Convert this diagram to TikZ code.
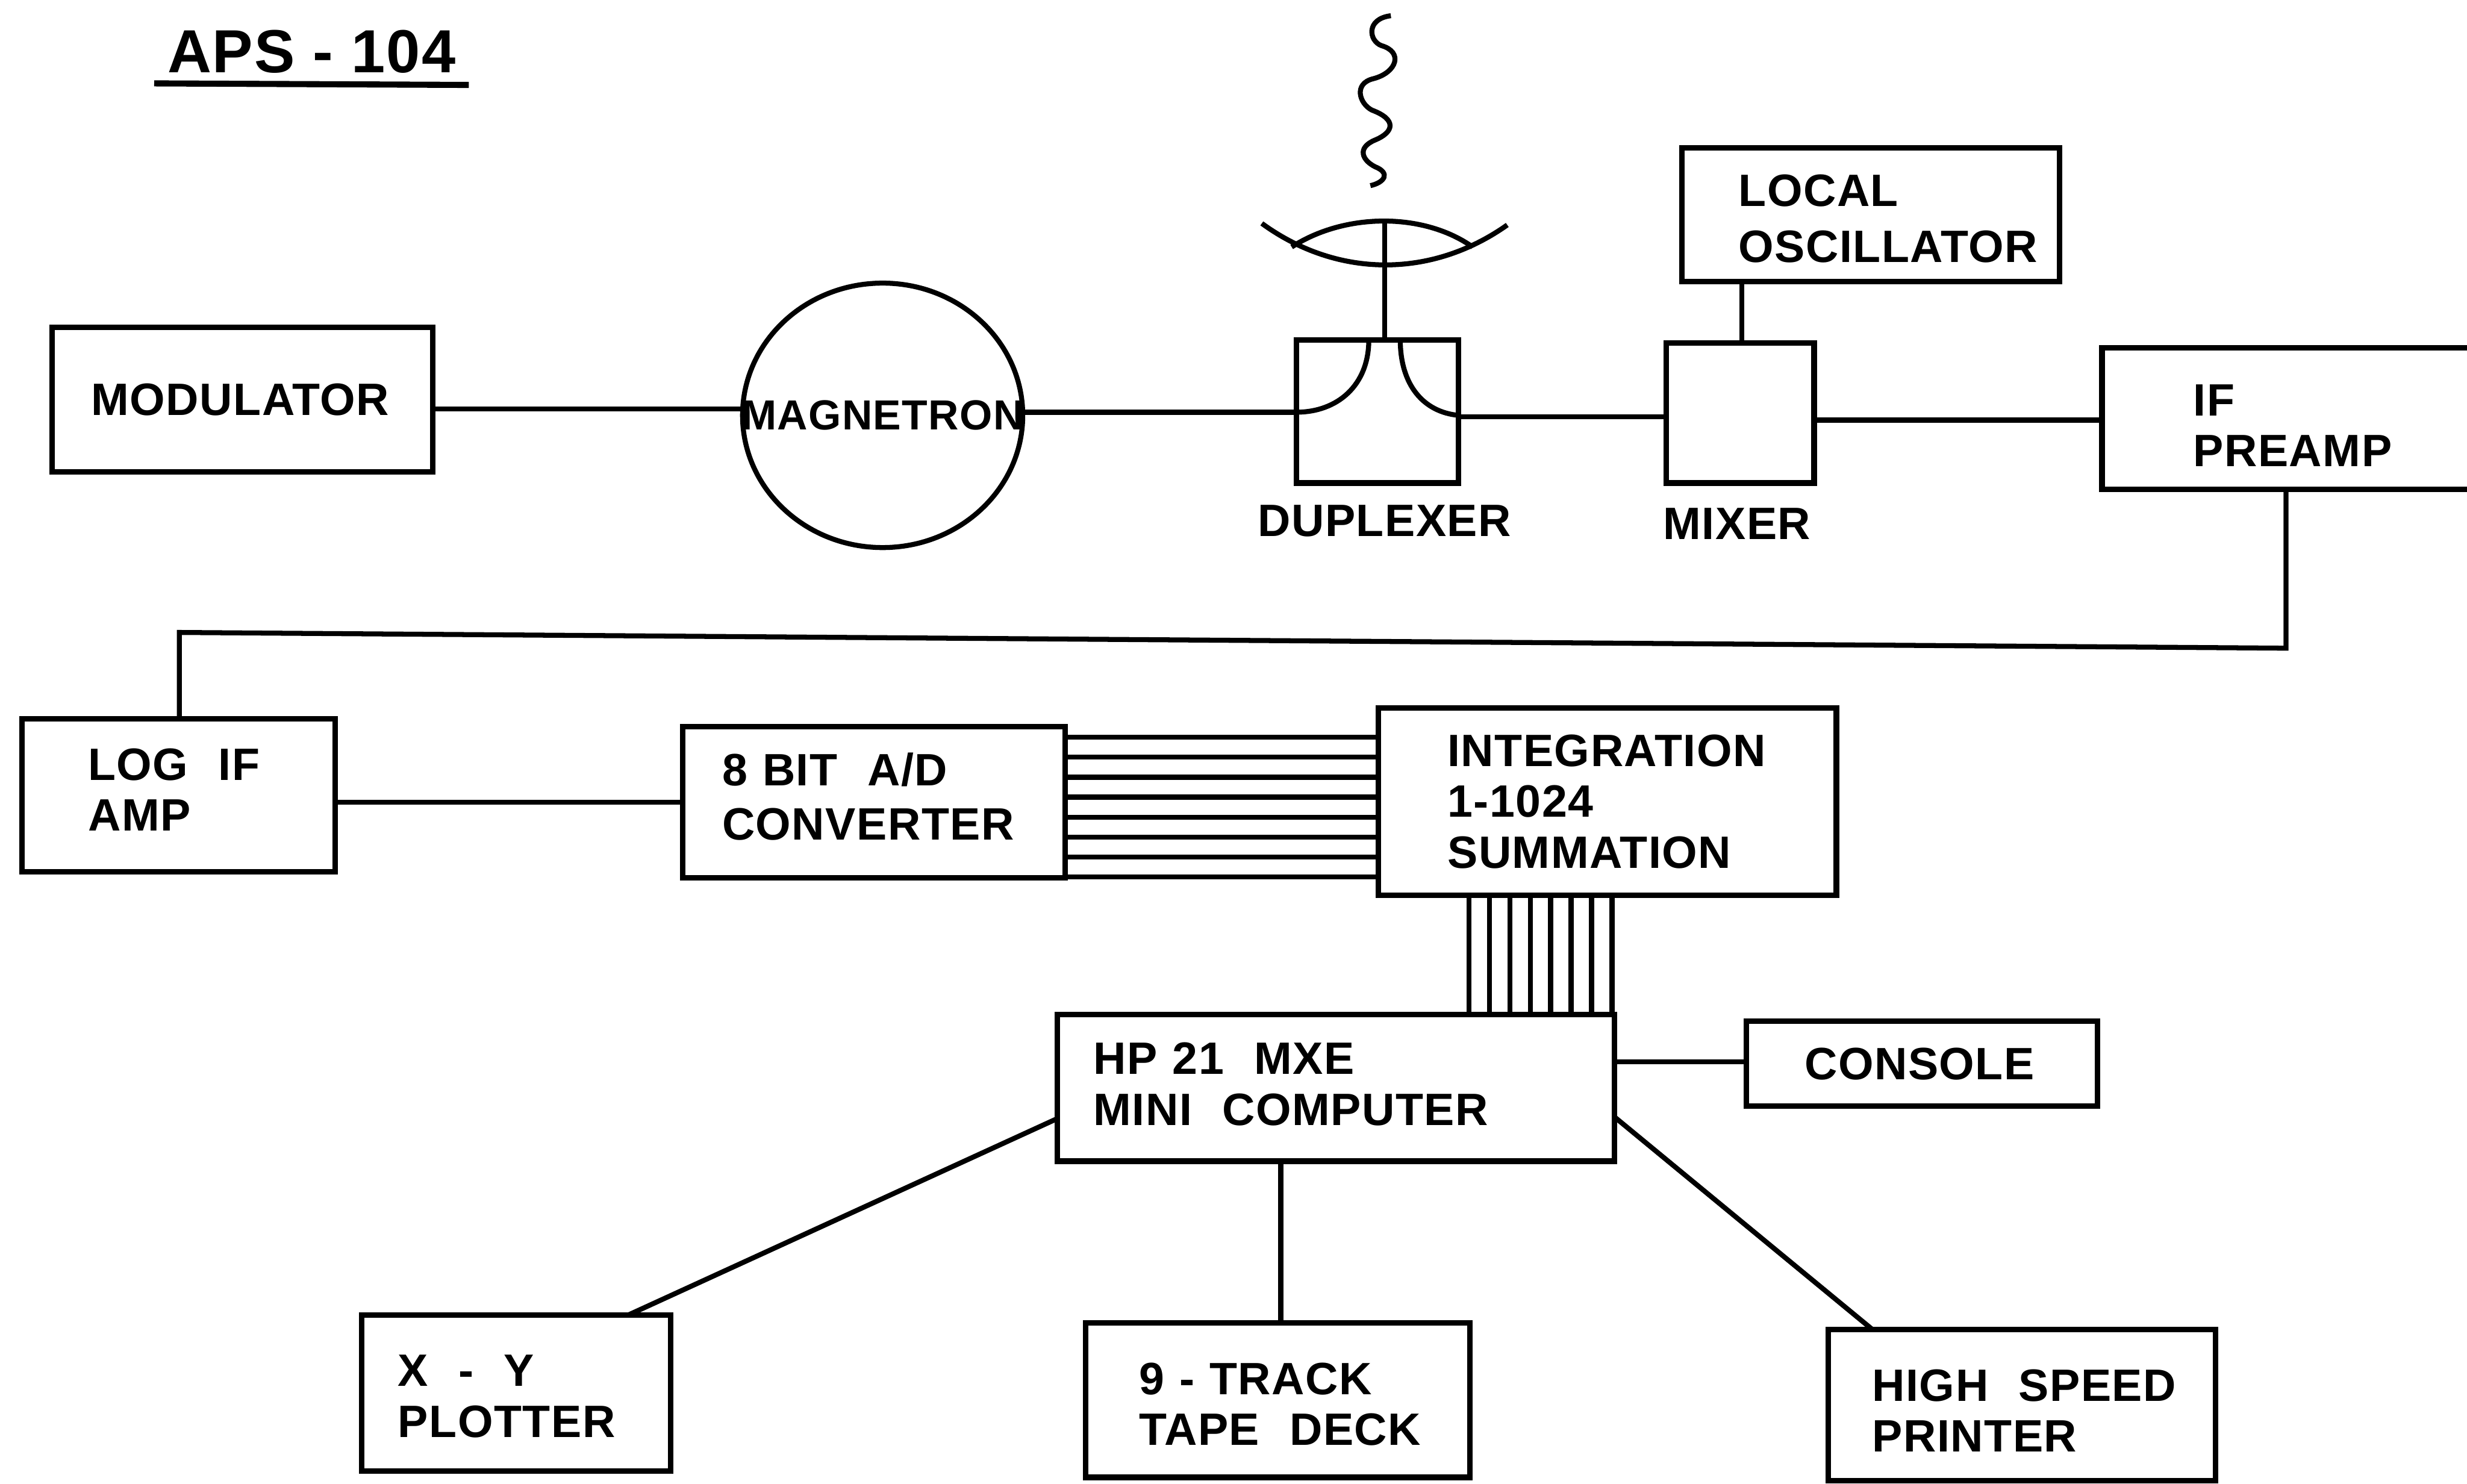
\documentclass[tikz,border=0pt]{standalone}
\usepackage{fontspec}
\setmainfont{Liberation Sans}[LetterSpace=2,UprightFont=* Bold]
\usetikzlibrary{calc,positioning,shapes.geometric}
\hyphenpenalty=10000
\exhyphenpenalty=10000
\tikzset{
  blockbox/.style={
    draw,
    line width=1pt,
    anchor=north west,
    inner xsep=0pt,
    inner ysep=0pt,
    outer sep=0pt,
    align=left,
    font=\fontsize{8.2pt}{9.2pt}\selectfont
  },
  nudge/.style={
    execute at end node={\par\vspace{#1}}
  },
  wire/.style={
    line width=0.9pt
  },
  caption/.style={
    inner sep=0pt,
    font=\fontsize{8.2pt}{9.2pt}\selectfont
  },
}
\begin{document}
\begin{tikzpicture}[x=0.01cm,y=-0.01cm]
    \useasboundingbox (0,0) rectangle (1568,943);
    \node[caption,font=\fontsize{11pt}{12pt}\selectfont] (title) at (198,33) {APS~-~104};
    \coordinate (ula) at (98,53);
    \coordinate (ulb) at (298,54);
    \draw[line width=1.1pt] (ula) -- (ulb);
    % top row
    \node[blockbox,nudge=-3.5pt,minimum width=2.42cm,minimum height=0.92cm,text width=1.92cm] (mod) at (33,208) {MODULATOR};
    \node[draw,wire,shape=ellipse,minimum width=1.78cm,minimum height=1.68cm,inner sep=0pt,outer sep=0pt,font=\fontsize{7.6pt}{9pt}\selectfont] (mag) at (561,264) {\makebox[0pt]{MAGNETRON}};
    \node[blockbox,minimum width=1.03cm,minimum height=0.91cm] (dup) at (824,216) {};
    \node[caption] (duplab) at (880,331) {DUPLEXER};
    \node[blockbox,minimum width=0.94cm,minimum height=0.89cm] (mix) at (1059,218) {};
    \node[caption] (mixlab) at (1104,333) {MIXER};
    \node[blockbox,nudge=-1.4pt,minimum width=2.40cm,minimum height=0.85cm,text width=1.68cm] (lo) at (1069,94) {LOCAL\\[1pt]OSCILLATOR};
    \node[blockbox,nudge=-2.5pt,minimum width=2.50cm,minimum height=0.90cm,text width=1.34cm] (pre) at (1336,221) {IF\\PREAMP};
    \draw[wire] (mod.east |- 0,260) -- (mag.west |- 0,260);
    \draw[wire] (mag.east |- 0,262) -- (dup.west |- 0,262);
    \draw[wire] (dup.east |- 0,265) -- (mix.west |- 0,265);
    \draw[wire] (mix.east |- 0,267) -- (pre.west |- 0,267);
    \draw[wire] (lo.south -| 1107,0) -- (mix.north -| 1107,0);
    % antenna and duplexer arms
    \coordinate (dishl) at (802,142);
    \coordinate (dishr) at (958,143);
    \coordinate (lensl) at (821,157);
    \coordinate (lensr) at (936,157);
    \coordinate (mast) at (880,140);
    \draw[wire] (dishl) .. controls (850,177) and (910,177) .. (dishr);
    \draw[wire] (lensl) .. controls (855,135) and (905,135) .. (lensr);
    \draw[wire] (mast) -- (mast |- dup.north);
    \draw[wire] (870,216) .. controls (870,245) and (850,262) .. (dup.west |- 0,262);
    \draw[wire] (890,216) .. controls (890,245) and (905,262) .. (dup.east |- 0,264);
    \coordinate (wavetop) at (884,10);
    \coordinate (waveend) at (871,118);
    \draw[wire] (wavetop) .. controls (868,12) and (870,26) .. (878,29)
      .. controls (892,33) and (888,46) .. (873,50)
      .. controls (860,53) and (864,66) .. (872,70)
      .. controls (888,76) and (886,84) .. (874,89)
      .. controls (862,94) and (866,102) .. (874,106)
      .. controls (884,110) and (880,116) .. (waveend);
    % second row
    \node[blockbox,nudge=2pt,minimum width=1.99cm,minimum height=0.97cm,text width=1.15cm] (log) at (14,457) {LOG~~IF\\AMP};
    \node[blockbox,nudge=2.2pt,minimum width=2.43cm,minimum height=0.96cm,text width=1.93cm] (adc) at (434,462) {8 BIT~~A/D\\[0.6pt]CONVERTER};
    \node[blockbox,minimum width=2.91cm,minimum height=1.19cm,text width=2.03cm] (int) at (876,450) {INTEGRATION\\1-1024\\SUMMATION};
    \coordinate (busr) at (1453,412);
    \coordinate (busl) at (114,402);
    \draw[wire] (pre.south -| busr) -- (busr) -- (busl) -- (log.north -| busl);
    \draw[wire] (log.east |- 0,510) -- (adc.west |- 0,510);
    \foreach \y in {468.6,481.3,494,506.7,519.4,532.1,544.8,557.5}
      \draw[wire] (adc.east |- 0,\y) -- (int.west |- 0,\y);
    % computer and peripherals
    \node[blockbox,nudge=1.4pt,minimum width=3.54cm,minimum height=0.93cm,text width=3.08cm] (hp) at (672,645) {HP~21~~MXE\\MINI~~COMPUTER};
    \node[blockbox,nudge=-1.6pt,minimum width=2.23cm,minimum height=0.54cm,text width=1.49cm] (con) at (1110,649) {CONSOLE};
    \node[blockbox,nudge=-1.1pt,minimum width=1.96cm,minimum height=0.99cm,text width=1.50cm] (xy) at (230,836) {X~~-~~Y\\PLOTTER};
    \node[blockbox,nudge=-1.4pt,minimum width=2.44cm,minimum height=0.98cm,text width=1.76cm] (tape) at (690,841) {9 - TRACK\\TAPE~~DECK};
    \node[blockbox,nudge=-2pt,minimum width=2.46cm,minimum height=0.96cm,text width=1.90cm] (prn) at (1162,845) {HIGH~~SPEED\\PRINTER};
    \foreach \x in {933.6,946.6,959.6,972.6,985.6,998.6,1011.6,1024.6}
      \draw[wire] (int.south -| \x,0) -- (hp.north -| \x,0);
    \draw[wire] (hp.east |- 0,675) -- (con.west |- 0,675);
    \draw[wire] (hp.west |- 0,711) -- (xy.north -| 399,0);
    \draw[wire] (hp.south -| 814,0) -- (tape.north -| 814,0);
    \draw[wire] (hp.east |- 0,710) -- (prn.north -| 1190,0);
\end{tikzpicture}
\end{document}
